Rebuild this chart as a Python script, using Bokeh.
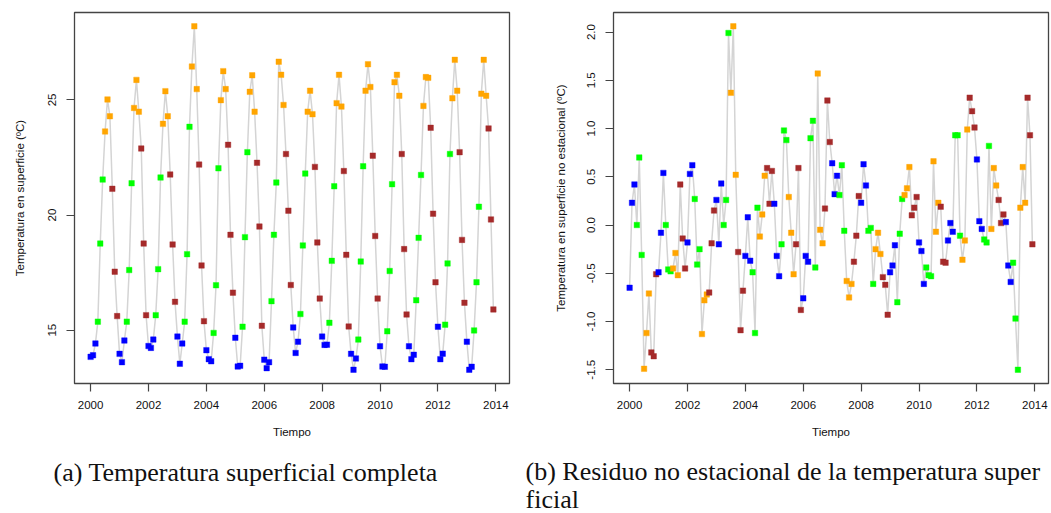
import numpy as np
from bokeh.plotting import figure
from bokeh.layouts import row
from bokeh.models import FixedTicker, PrintfTickFormatter, Range1d, Title, ColumnDataSource
from bokeh.embed import file_html
from bokeh.resources import INLINE

# Monthly sea-surface temperature (ºC), Jan 2000 - Dec 2013, one row per year
temperatura = [
    13.84, 13.91, 14.42, 15.37, 18.76, 21.54, 23.63, 25.02, 24.29, 21.14, 17.54, 15.61,  # 2000
    13.97, 13.61, 14.55, 15.37, 17.61, 21.38, 24.65, 25.87, 24.49, 22.89, 18.76, 15.65,  # 2001
    14.31, 14.23, 14.59, 15.65, 17.65, 21.63, 23.96, 25.38, 24.29, 21.76, 18.72, 16.23,  # 2002
    14.72, 13.54, 14.42, 15.37, 18.30, 23.83, 26.45, 28.20, 25.47, 22.19, 17.81, 15.39,  # 2003
    14.13, 13.74, 13.65, 14.88, 16.95, 22.03, 24.99, 26.25, 25.47, 23.05, 19.14, 16.63,  # 2004
    14.67, 13.42, 13.45, 15.15, 19.04, 22.73, 25.35, 26.07, 24.49, 22.27, 19.50, 15.19,  # 2005
    13.72, 13.35, 13.61, 16.26, 19.14, 21.41, 26.66, 26.09, 24.78, 22.65, 20.19, 16.96,  # 2006
    15.12, 14.01, 14.50, 15.70, 18.68, 21.80, 24.49, 25.40, 24.38, 22.09, 18.81, 16.37,  # 2007
    14.72, 14.36, 14.37, 15.32, 18.01, 21.25, 24.86, 26.09, 24.71, 21.91, 18.27, 15.16,  # 2008
    13.97, 13.28, 13.77, 14.59, 17.98, 22.12, 25.40, 26.55, 25.56, 22.58, 19.09, 16.37,  # 2009
    14.30, 13.42, 13.41, 14.95, 17.57, 21.34, 25.77, 26.09, 25.18, 22.65, 18.52, 15.68,  # 2010
    14.30, 13.74, 13.93, 16.30, 19.01, 21.74, 24.74, 25.99, 25.96, 23.79, 20.06, 17.08,  # 2011
    15.15, 13.74, 13.98, 15.24, 17.90, 22.65, 25.07, 26.74, 25.40, 22.73, 18.92, 16.19,  # 2012
    14.50, 13.28, 13.41, 14.99, 17.08, 20.36, 25.27, 26.74, 25.18, 23.76, 19.81, 15.90,  # 2013
]

# Non-seasonal residual of the same series (ºC)
residuo = [
    -0.65, 0.23, 0.42, 0.00, 0.70, -0.31, -1.49, -1.12, -0.71, -1.32, -1.36, -0.51,  # 2000
    -0.49, -0.08, 0.54, 0.00, -0.46, -0.48, -0.45, -0.29, -0.52, 0.42, -0.14, -0.45,  # 2001
    -0.18, 0.53, 0.62, 0.27, -0.41, -0.25, -1.13, -0.78, -0.72, -0.70, -0.19, 0.15,  # 2002
    0.26, -0.20, 0.43, 0.00, 0.26, 1.99, 1.37, 2.06, 0.52, -0.28, -1.09, -0.68,  # 2003
    -0.32, 0.08, -0.37, -0.49, -1.12, 0.18, -0.12, 0.11, 0.51, 0.59, 0.22, 0.56,  # 2004
    0.22, -0.32, -0.53, -0.20, 0.98, 0.88, 0.29, -0.08, -0.51, -0.20, 0.59, -0.88,  # 2005
    -0.76, -0.32, -0.38, 0.90, 1.08, -0.44, 1.57, -0.05, -0.19, 0.17, 1.29, 0.86,  # 2006
    0.64, 0.32, 0.51, 0.31, 0.62, -0.06, -0.58, -0.75, -0.61, -0.38, -0.11, 0.30,  # 2007
    0.23, 0.63, 0.41, -0.06, -0.03, -0.61, -0.25, -0.08, -0.30, -0.54, -0.62, -0.93,  # 2008
    -0.49, -0.42, -0.21, -0.80, -0.09, 0.27, 0.31, 0.38, 0.60, 0.10, 0.18, 0.29,  # 2009
    -0.18, -0.27, -0.61, -0.44, -0.52, -0.53, 0.66, -0.07, 0.23, 0.19, -0.38, -0.39,  # 2010
    -0.16, 0.02, -0.07, 0.93, 0.93, -0.11, -0.36, -0.16, 0.99, 1.32, 1.18, 1.01,  # 2011
    0.68, 0.04, -0.04, -0.15, -0.18, 0.82, -0.04, 0.59, 0.41, 0.26, 0.02, 0.11,  # 2012
    0.03, -0.42, -0.59, -0.39, -0.97, -1.50, 0.18, 0.60, 0.23, 1.32, 0.93, -0.20,  # 2013
]

anio_inicio = 2000
anio_ticks = [2000, 2002, 2004, 2006, 2008, 2010, 2012, 2014]
ticks_temp = [15, 20, 25]
ticks_resid = [-1.5, -1.0, -0.5, 0.0, 0.5, 1.0, 1.5, 2.0]

# winter, spring, summer, autumn
colores_estacion = ["#0000FF", "#00FF00", "#FFA500", "#A52A2A"]

AXIS_FONT = "Liberation Sans Narrow, Liberation Sans, Arial, sans-serif"
CAPTION_FONT = "Liberation Serif, serif"

n = len(temperatura)
tiempo = anio_inicio + np.arange(n) / 12.0
mes = np.arange(n) % 12
color = [colores_estacion[m // 3] for m in mes]


def r_range(vals):
    lo, hi = float(np.min(vals)), float(np.max(vals))
    pad = 0.04 * (hi - lo)
    return Range1d(lo - pad, hi + pad)


def panel(valores, ylabel, yticks, yfmt, border_left, border_right,
          label_standoff, tick_standoff):
    src = ColumnDataSource(dict(t=tiempo, v=valores, c=color))
    p = figure(frame_width=435, frame_height=371,
               min_border_left=border_left, min_border_right=border_right,
               min_border_top=12, min_border_bottom=130,
               x_range=r_range(tiempo), y_range=r_range(valores),
               output_backend="svg", toolbar_location=None)
    p.grid.visible = False
    p.outline_line_color = "#444444"
    p.outline_line_width = 1.3
    p.background_fill_color = "white"
    p.border_fill_color = "white"

    p.line("t", "v", source=src, line_color="#d4d4d4", line_width=1.5)
    p.scatter("t", "v", source=src, marker="square", size=5.5,
              fill_color="c", line_color="c", line_width=0.4)

    for ax in (p.xaxis[0], p.yaxis[0]):
        ax.axis_line_color = None
        ax.major_tick_in = 0
        ax.major_tick_out = 8
        ax.major_tick_line_color = "#444444"
        ax.major_tick_line_width = 1.2
        ax.minor_tick_line_color = None
        ax.major_label_text_font = AXIS_FONT
        ax.major_label_text_font_size = "11.5px"
        ax.major_label_text_color = "#111111"
        ax.axis_label_text_font = AXIS_FONT
        ax.axis_label_text_font_size = "11.5px"
        ax.axis_label_text_font_style = "normal"
        ax.axis_label_text_color = "#111111"

    p.xaxis.ticker = FixedTicker(ticks=anio_ticks)
    p.xaxis.major_label_standoff = 9
    p.xaxis.axis_label = "Tiempo"
    p.xaxis.axis_label_standoff = 14

    p.yaxis.ticker = FixedTicker(ticks=yticks)
    p.yaxis.formatter = PrintfTickFormatter(format=yfmt)
    p.yaxis.major_label_orientation = "vertical"
    p.yaxis.major_label_standoff = tick_standoff
    p.yaxis.axis_label = ylabel
    p.yaxis.axis_label_standoff = label_standoff
    return p


pa = panel(temperatura, "Temperatura en superficie (ºC)", ticks_temp, "%d",
           74, 16, 20, 10)
pb = panel(residuo, "Temperatura en superficie no estacional (ºC)", ticks_resid,
           "%.1f", 88, 3, 18, 10)


def caption(p, text, offset, standoff):
    t = Title(text=text, align="left", offset=offset, standoff=standoff,
              text_font=CAPTION_FONT, text_font_size="26px",
              text_font_style="normal", text_color="#111111",
              text_line_height=0.98)
    p.add_layout(t, "below")


caption(pa, "(a) Temperatura superficial completa", -21, 30)
caption(pb, "(b) Residuo no estacional de la temperatura super\nficial", -88, 30)

layout = row(pa, pb)
open("out.html", "w").write(file_html(layout, INLINE))
